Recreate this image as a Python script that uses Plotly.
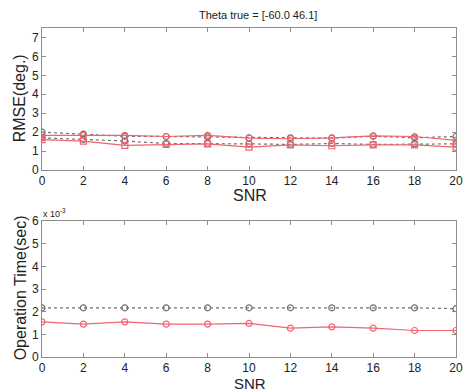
import plotly.graph_objects as go

snr = [0, 2, 4, 6, 8, 10, 12, 14, 16, 18, 20]

# RMSE (deg.)
rmse_gray_a = [2.0, 1.9, 1.78, 1.77, 1.75, 1.7, 1.7, 1.68, 1.78, 1.7, 1.77]
rmse_red_a = [1.83, 1.83, 1.83, 1.77, 1.83, 1.68, 1.65, 1.7, 1.8, 1.77, 1.56]
rmse_gray_b = [1.7, 1.62, 1.53, 1.4, 1.4, 1.38, 1.35, 1.4, 1.35, 1.38, 1.38]
rmse_red_b = [1.6, 1.52, 1.3, 1.35, 1.38, 1.21, 1.33, 1.28, 1.33, 1.33, 1.21]

# Operation time (x 1e-3 sec)
time_gray = [2.17, 2.17, 2.17, 2.17, 2.17, 2.17, 2.17, 2.17, 2.17, 2.17, 2.13]
time_red = [1.55, 1.45, 1.55, 1.45, 1.45, 1.48, 1.27, 1.33, 1.27, 1.17, 1.17]

x_ticks = [0, 2, 4, 6, 8, 10, 12, 14, 16, 18, 20]
y_top_ticks = [0, 1, 2, 3, 4, 5, 6, 7]
y_bot_ticks = [0, 1, 2, 3, 4, 5, 6]

GRAY = "#707070"
RED = "#f0646e"
FONT = "Liberation Sans, Arial, sans-serif"

# page body has an 8px margin; the figure is sized/positioned to compensate
OFF = 8
W, H = 471 - OFF, 391 - OFF
L, R, T, B = 42, 463, 28, 357  # plot box in reference pixels

fig = go.Figure()

def add(x, y, color, dash, symbol, xa, ya):
    fig.add_trace(go.Scatter(
        x=x, y=y, mode="lines+markers", xaxis=xa, yaxis=ya,
        line=dict(color=color, width=1.2, dash=dash),
        marker=dict(symbol=symbol, size=6, color=color,
                    line=dict(color=color, width=1.2)),
        showlegend=False))

add(snr, rmse_gray_a, GRAY, "dot", "circle-open", "x", "y")
add(snr, rmse_gray_b, GRAY, "dot", "circle-open", "x", "y")
add(snr, rmse_red_a, RED, "solid", "circle-open", "x", "y")
add(snr, rmse_red_b, RED, "solid", "square-open", "x", "y")
add(snr, time_gray, GRAY, "dot", "circle-open", "x2", "y2")
add(snr, time_red, RED, "solid", "circle-open", "x2", "y2")

axis_common = dict(
    showline=True, linecolor="#8c8c8c", linewidth=1, mirror="ticks",
    ticks="inside", ticklen=4, tickcolor="#8c8c8c", showgrid=False,
    zeroline=False, tickfont=dict(family=FONT, size=12, color="#222"),
)

PH = B - T
fig.update_layout(
    width=W, height=H,
    margin=dict(l=L - OFF, r=W - (R - OFF), t=T - OFF, b=H - (B - OFF)),
    paper_bgcolor="white", plot_bgcolor="white",
    xaxis=dict(domain=[0, 1], anchor="y", range=[0, 20], tickvals=x_ticks,
               ticktext=[str(v) for v in x_ticks], **axis_common),
    yaxis=dict(domain=[(B - 170) / PH, 1], anchor="x", range=[0, 7.5],
               tickvals=y_top_ticks, **axis_common),
    xaxis2=dict(domain=[0, 1], anchor="y2", range=[0, 20], tickvals=x_ticks,
                ticktext=[str(v) for v in x_ticks], **axis_common),
    yaxis2=dict(domain=[0, (B - 221) / PH], anchor="x2", range=[0, 6],
                tickvals=y_bot_ticks, **axis_common),
)

def px2paper_x(px):
    return (px - L) / float(R - L)

def px2paper_y(py):
    return (B - py) / float(PH)

ann = [
    dict(text="Theta true = [-60.0 46.1]", x=px2paper_x(262), y=px2paper_y(15),
         size=11),
    dict(text="SNR", x=px2paper_x(254), y=px2paper_y(195), size=16),
    dict(text="SNR", x=px2paper_x(254), y=px2paper_y(383), size=15),
    dict(text="RMSE(deg.)", x=px2paper_x(20), y=px2paper_y(98), size=16,
         textangle=-90),
    dict(text="Operation Time(sec)", x=px2paper_x(20), y=px2paper_y(288),
         size=16, textangle=-90),
    dict(text="x 10<sup>-3</sup>", x=px2paper_x(41), y=px2paper_y(213),
         size=9, xanchor="left"),
]
for a in ann:
    size = a.pop("size")
    a.setdefault("xanchor", "center")
    fig.add_annotation(xref="paper", yref="paper", showarrow=False,
                       yanchor="middle", font=dict(family=FONT, color="#222", size=size),
                       **a)

fig.write_html("out.html")
